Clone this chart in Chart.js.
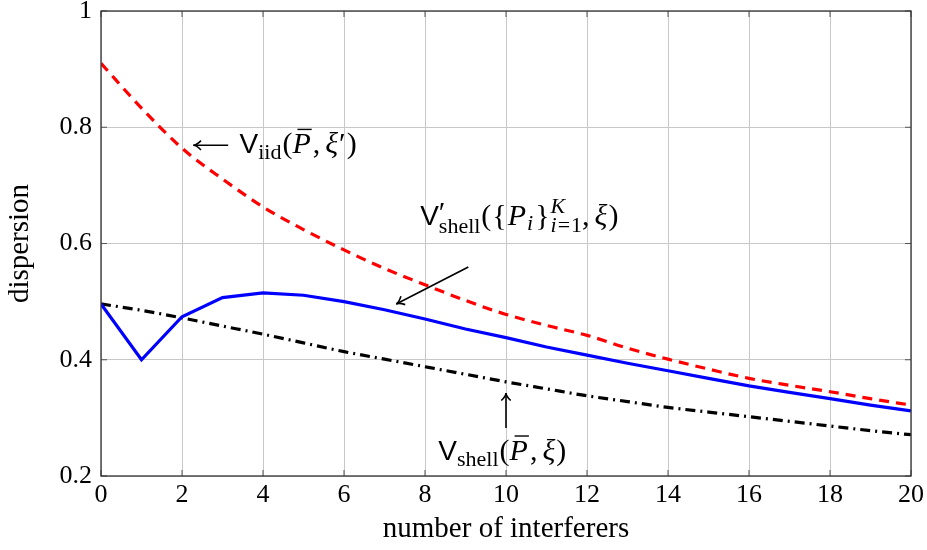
<!DOCTYPE html>
<html>
<head>
<meta charset="utf-8">
<script src="https://cdn.jsdelivr.net/npm/chart.js@4.4.1/dist/chart.umd.min.js"></script>
<style>
  html, body { margin: 0; padding: 0; background: #fff; }
  #wrap { width: 927px; height: 550px; }
</style>
</head>
<body>
<div id="wrap"><canvas id="dispChart" width="927" height="550"></canvas></div>
<script>
// number of interferers
const interferers = [0, 1, 2, 3, 4, 5, 6, 7, 8, 9, 10, 11, 12, 13, 14, 15, 16, 17, 18, 19, 20];

// V_iid(P, xi') - red dashed
const vIid = [0.910, 0.833, 0.764, 0.711, 0.663, 0.624, 0.589, 0.557, 0.529, 0.502, 0.478,
              0.459, 0.442, 0.420, 0.401, 0.384, 0.368, 0.356, 0.345, 0.333, 0.322];

// V'_shell({P_i}, xi) - blue solid
const vShellPrime = [0.496, 0.400, 0.474, 0.507, 0.515, 0.511, 0.500, 0.486, 0.470, 0.453, 0.438,
                     0.422, 0.408, 0.394, 0.381, 0.368, 0.355, 0.344, 0.333, 0.322, 0.312];

// V_shell(P, xi) - black dash-dot
const vShell = [0.496, 0.485, 0.472, 0.458, 0.444, 0.429, 0.414, 0.401, 0.388, 0.375, 0.362,
                0.350, 0.338, 0.328, 0.318, 0.310, 0.302, 0.294, 0.286, 0.278, 0.271];

const xTicks = [0, 2, 4, 6, 8, 10, 12, 14, 16, 18, 20];
const yTicks = [0.2, 0.4, 0.6, 0.8, 1];
const yTickLabels = ['0.2', '0.4', '0.6', '0.8', '1'];

const SERIF = '"Liberation Serif", "DejaVu Serif", serif';
const SANS = '"Liberation Sans", "DejaVu Sans", sans-serif';

function pts(ys) {
    return interferers.map((x, i) => ({ x: x, y: ys[i] }));
}

// draw a run of text pieces (for the math labels)
function drawRun(ctx, x, y, pieces) {
    let cx = x;
    pieces.forEach(p => {
        ctx.font = p.font;
        ctx.fillStyle = '#000';
        ctx.textBaseline = 'alphabetic';
        ctx.textAlign = 'left';
        const dy = p.dy || 0;
        ctx.fillText(p.t, cx, y + dy);
        const w = ctx.measureText(p.t).width;
        if (p.bar) {
            ctx.strokeStyle = '#000';
            ctx.lineWidth = 1.4;
            ctx.setLineDash([]);
            ctx.beginPath();
            ctx.moveTo(cx + 5, y - 24);
            ctx.lineTo(cx + w + 1, y - 24);
            ctx.stroke();
        }
        if (!p.noAdvance) cx += w + (p.kern || 0);
    });
}

function arrow(ctx, x1, y1, x2, y2) {
    ctx.save();
    ctx.strokeStyle = '#000';
    ctx.lineWidth = 1.6;
    ctx.setLineDash([]);
    ctx.beginPath();
    ctx.moveTo(x1, y1);
    ctx.lineTo(x2, y2);
    ctx.stroke();
    const a = Math.atan2(y2 - y1, x2 - x1);
    const L = 9;
    ctx.beginPath();
    ctx.moveTo(x2 - L * Math.cos(a - 0.55), y2 - L * Math.sin(a - 0.55));
    ctx.quadraticCurveTo(x2 - 3 * Math.cos(a), y2 - 3 * Math.sin(a), x2, y2);
    ctx.quadraticCurveTo(x2 - 3 * Math.cos(a), y2 - 3 * Math.sin(a),
                         x2 - L * Math.cos(a + 0.55), y2 - L * Math.sin(a + 0.55));
    ctx.stroke();
    ctx.restore();
}

const frameAndLabels = {
    id: 'frameAndLabels',
    afterDatasetsDraw(chart) {
        const ctx = chart.ctx;
        const area = chart.chartArea;
        const xs = chart.scales.x, ys = chart.scales.y;
        const px = v => xs.getPixelForValue(v);
        const py = v => ys.getPixelForValue(v);

        ctx.save();
        // inner tick marks on all four sides
        ctx.strokeStyle = '#555';
        ctx.lineWidth = 1;
        ctx.setLineDash([]);
        xTicks.forEach(v => {
            const x = px(v);
            ctx.beginPath();
            ctx.moveTo(x, area.bottom); ctx.lineTo(x, area.bottom - 6);
            ctx.moveTo(x, area.top); ctx.lineTo(x, area.top + 6);
            ctx.stroke();
        });
        yTicks.forEach(v => {
            const y = py(v);
            ctx.beginPath();
            ctx.moveTo(area.left, y); ctx.lineTo(area.left + 6, y);
            ctx.moveTo(area.right, y); ctx.lineTo(area.right - 6, y);
            ctx.stroke();
        });
        // frame
        ctx.strokeStyle = '#333';
        ctx.lineWidth = 1.3;
        ctx.strokeRect(area.left, area.top, area.right - area.left, area.bottom - area.top);

        const big = '30px ' + SERIF;
        const it = 'italic 30px ' + SERIF;
        const sub = '22px ' + SERIF;
        const itSub = 'italic 22px ' + SERIF;
        const sf = '28px ' + SANS;

        // V_iid label
        arrow(ctx, px(3.14), py(0.769), px(2.28), py(0.769));
        drawRun(ctx, px(3.42), py(0.755), [
            { t: 'V', font: sf },
            { t: 'iid', font: sub, dy: 6, kern: 1 },
            { t: '(', font: big },
            { t: 'P', font: it, bar: true, kern: 2 },
            { t: ',', font: big, kern: 5 },
            { t: 'ξ', font: it, kern: 1 },
            { t: '′', font: big, kern: 1 },
            { t: ')', font: big }
        ]);

        // V'_shell label
        arrow(ctx, px(9.07), py(0.5596), px(7.29), py(0.496));
        drawRun(ctx, px(7.88), py(0.6315), [
            { t: 'V', font: sf },
            { t: '′', font: big, noAdvance: true, dy: -3 },
            { t: 'shell', font: sub, dy: 8, kern: 1 },
            { t: '(', font: big, kern: 1 },
            { t: '{', font: big, kern: 1 },
            { t: 'P', font: it, kern: 1 },
            { t: 'i', font: itSub, dy: 5, kern: 2 },
            { t: '}', font: big, kern: 1 },
            { t: 'K', font: itSub, dy: -12, noAdvance: true },
            { t: 'i', font: itSub, dy: 7, kern: 1 },
            { t: '=', font: sub, dy: 7, kern: 1 },
            { t: '1', font: sub, dy: 7 },
            { t: ',', font: big, kern: 5 },
            { t: 'ξ', font: it, kern: 1 },
            { t: ')', font: big }
        ]);

        // V_shell label
        arrow(ctx, px(10), py(0.2826), px(10), py(0.343));
        drawRun(ctx, px(8.33), py(0.2275), [
            { t: 'V', font: sf },
            { t: 'shell', font: sub, dy: 6, kern: 1 },
            { t: '(', font: big },
            { t: 'P', font: it, bar: true, kern: 2 },
            { t: ',', font: big, kern: 5 },
            { t: 'ξ', font: it, kern: 1 },
            { t: ')', font: big }
        ]);
        ctx.restore();
    }
};

const ctx = document.getElementById('dispChart').getContext('2d');
new Chart(ctx, {
    type: 'line',
    data: {
        datasets: [
            {
                data: pts(vIid),
                borderColor: '#ff0000',
                borderWidth: 3.2,
                borderDash: [10, 7],
                pointRadius: 0,
                cubicInterpolationMode: 'monotone',
                fill: false
            },
            {
                data: pts(vShellPrime),
                borderColor: '#0000ff',
                borderWidth: 3.2,
                pointRadius: 0,
                tension: 0,
                fill: false
            },
            {
                data: pts(vShell),
                borderColor: '#000000',
                borderWidth: 3.2,
                borderDash: [10, 5, 2, 5],
                pointRadius: 0,
                cubicInterpolationMode: 'monotone',
                fill: false
            }
        ]
    },
    options: {
        responsive: false,
        animation: false,
        devicePixelRatio: 1,
        layout: {
            padding: { left: 0, right: 16, top: 11, bottom: 0 }
        },
        plugins: {
            legend: { display: false },
            tooltip: { enabled: false }
        },
        scales: {
            x: {
                type: 'linear',
                min: 0,
                max: 20,
                afterFit: s => { s.height = 74; s.paddingLeft = 0; s.paddingRight = 0; },
                afterBuildTicks: s => { s.ticks = xTicks.map(v => ({ value: v })); },
                grid: { color: '#c8c8c8', lineWidth: 1, drawTicks: false },
                border: { display: false },
                ticks: {
                    color: '#000',
                    padding: 4,
                    maxRotation: 0,
                    font: { family: SERIF, size: 26 }
                },
                title: {
                    display: true,
                    text: 'number of interferers',
                    color: '#000',
                    padding: { top: 0, bottom: 3 },
                    font: { family: SERIF, size: 29 }
                }
            },
            y: {
                min: 0.2,
                max: 1,
                afterFit: s => { s.width = 101; s.paddingTop = 0; s.paddingBottom = 0; },
                afterBuildTicks: s => { s.ticks = yTicks.map(v => ({ value: v })); },
                grid: { color: '#c8c8c8', lineWidth: 1, drawTicks: false },
                border: { display: false },
                ticks: {
                    color: '#000',
                    padding: 9,
                    font: { family: SERIF, size: 26 },
                    callback: (v, i) => yTickLabels[i]
                },
                title: {
                    display: true,
                    text: 'dispersion',
                    color: '#000',
                    padding: { top: 3, bottom: 0 },
                    font: { family: SERIF, size: 29 }
                }
            }
        }
    },
    plugins: [frameAndLabels]
});
</script>
</body>
</html>
